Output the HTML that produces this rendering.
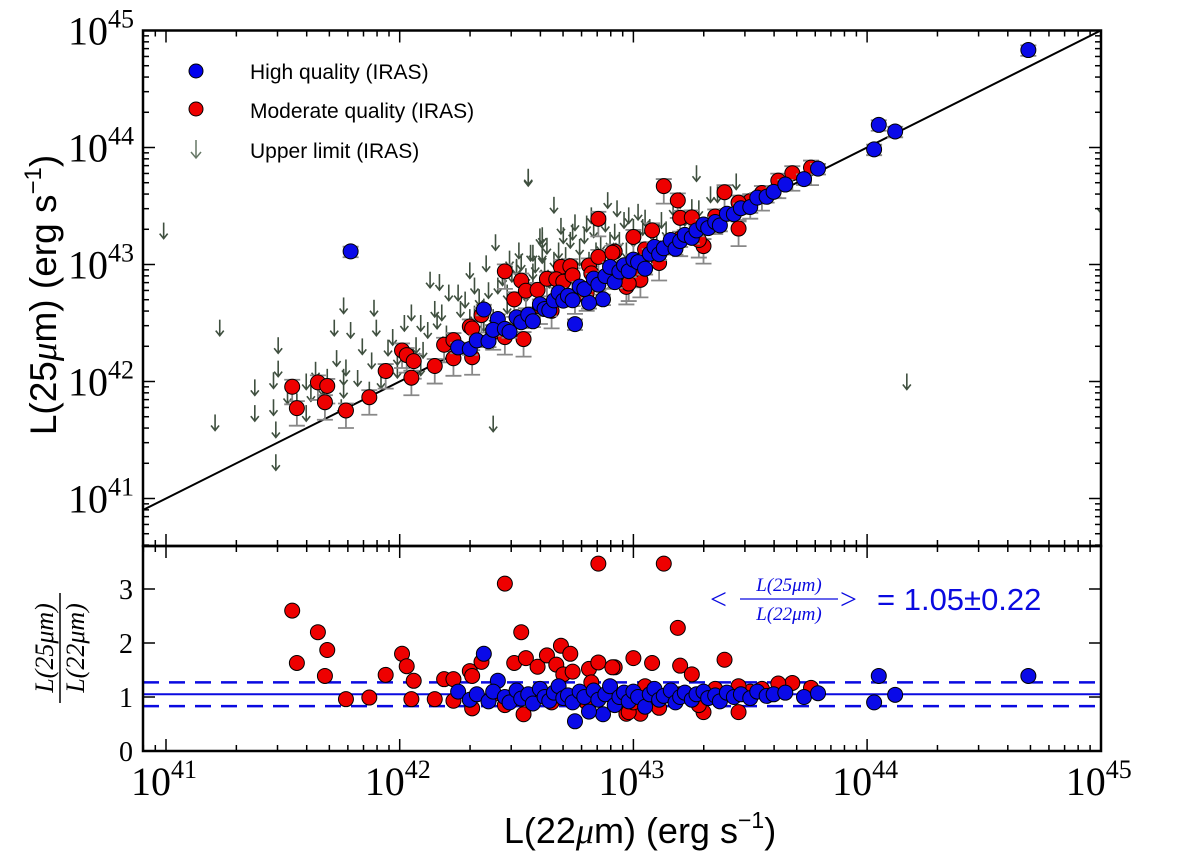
<!DOCTYPE html>
<html><head><meta charset="utf-8"><style>
html,body{margin:0;padding:0;background:#fff;}
svg{display:block;}
.tk{font-family:"Liberation Serif","DejaVu Serif",serif;font-size:40px;fill:#000;}
.sup{font-size:26px;}
.lab{font-family:"Liberation Sans",sans-serif;font-size:36px;fill:#000;}
.leg{font-family:"Liberation Sans",sans-serif;font-size:21px;fill:#000;}
</style></head><body>
<svg id="chart" width="1200" height="865" xmlns="http://www.w3.org/2000/svg">
<defs>
<clipPath id="cTop"><rect x="143" y="30.5" width="958" height="515.5"/></clipPath>
<clipPath id="cBot"><rect x="143" y="546" width="958" height="205"/></clipPath>
</defs>
<g id="gTop" clip-path="url(#cTop)"></g>
<g id="gBot" clip-path="url(#cBot)"></g>
<g id="axes"></g>
<g id="legend">
  <circle cx="196" cy="71" r="7" fill="#0000ee" stroke="#000" stroke-width="1"/>
  <text x="250" y="79" class="leg">High quality (IRAS)</text>
  <circle cx="196" cy="109" r="7" fill="#ee0000" stroke="#000" stroke-width="1"/>
  <text x="250" y="118" class="leg">Moderate quality (IRAS)</text>
  <g stroke="#667766" stroke-width="1.5" fill="none">
    <line x1="196" y1="140" x2="196" y2="158"/><polyline points="191,152 196,158 201,152"/>
  </g>
  <text x="250" y="158" class="leg">Upper limit (IRAS)</text>
</g>
<text transform="translate(56,295) rotate(-90)" text-anchor="middle" class="lab" style="font-size:37px">L(25<tspan font-family="Liberation Serif" font-style="italic">μ</tspan>m) (erg s<tspan dy="-15" font-size="24">−1</tspan><tspan dy="15">)</tspan></text>
<text x="640" y="843" text-anchor="middle" class="lab">L(22<tspan font-family="Liberation Serif" font-style="italic">μ</tspan>m) (erg s<tspan dy="-15" font-size="23">−1</tspan><tspan dy="15">)</tspan></text>
<g transform="translate(60,648) rotate(-90)" font-family="Liberation Serif" font-style="italic" font-size="26">
  <text x="0" y="-7" text-anchor="middle">L(25μm)</text>
  <line x1="-55" y1="0" x2="55" y2="0" stroke="#000" stroke-width="1.5"/>
  <text x="0" y="24" text-anchor="middle">L(22μm)</text>
</g>
<g fill="#0a0ae0">
  <text x="710" y="609" font-family="Liberation Serif" font-size="30">&lt;</text>
  <text x="789" y="591" text-anchor="middle" font-family="Liberation Serif" font-style="italic" font-size="19">L(25μm)</text>
  <line x1="740" y1="599" x2="838" y2="599" stroke="#0a0ae0" stroke-width="1.2"/>
  <text x="789" y="620" text-anchor="middle" font-family="Liberation Serif" font-style="italic" font-size="19">L(22μm)</text>
  <text x="840" y="609" font-family="Liberation Serif" font-size="30">&gt;</text>
  <text x="877" y="610" font-family="Liberation Sans" font-size="31">= 1.05±0.22</text>
</g>
</svg>
<script>
const redPts = [[41.54,2.6],[41.56,1.63],[41.65,2.2],[41.69,1.87],[41.68,1.39],[41.77,0.96],[41.87,0.99],[41.94,1.41],[42.01,1.8],[42.03,1.57],[42.06,1.3],[42.05,0.96],[42.15,0.96],[42.19,1.33],[42.23,1.33],[42.23,0.93],[42.30,1.48],[42.31,1.39],[42.31,0.79],[42.35,1.65],[42.45,3.1],[42.52,2.2],[42.49,1.63],[42.54,1.72],[42.59,1.56],[42.63,1.77],[42.53,0.68],[42.69,1.95],[42.73,1.8],[42.67,1.6],[42.70,1.42],[42.74,1.47],[42.81,1.52],[42.85,1.64],[42.92,1.55],[42.82,1.27],[42.80,0.9],[42.85,3.47],[42.97,0.69],[43.13,3.47],[43.19,2.28],[43.0,1.72],[43.08,1.63],[43.2,1.58],[43.39,1.69],[43.25,1.42],[43.68,1.26],[43.30,0.72],[43.45,0.72],[43.03,0.69],[42.98,0.72],[43.11,0.8],[43.76,1.17],[42.91,1.55],[42.4,1.05],[42.6,1.1],[42.75,0.95],[42.9,1.1],[43.05,1.2],[43.2,1.05],[43.35,1.15],[43.5,1.1],[42.45,0.85],[42.65,0.9],[43.0,0.9],[43.28,0.85],[43.45,1.2],[43.55,1.15],[43.62,1.25]];
const bluePts = [[42.25,1.1],[42.36,1.8],[42.42,1.3],[42.75,0.55],[42.87,0.68],[42.81,0.73],[42.3,0.95],[42.33,1.05],[42.38,0.92],[42.4,1.1],[42.45,1.0],[42.47,0.9],[42.5,1.12],[42.52,0.97],[42.55,1.05],[42.57,0.88],[42.6,1.15],[42.62,1.0],[42.64,0.93],[42.66,1.08],[42.68,1.2],[42.7,0.98],[42.72,1.03],[42.74,0.9],[42.77,1.1],[42.79,1.0],[42.83,1.12],[42.85,0.95],[42.88,1.05],[42.9,1.2],[42.92,0.85],[42.94,1.0],[42.96,1.08],[42.98,0.92],[43.0,1.1],[43.02,1.0],[43.05,0.82],[43.07,1.05],[43.09,1.15],[43.11,0.95],[43.13,1.02],[43.16,1.12],[43.18,0.9],[43.2,1.0],[43.22,1.08],[43.25,0.95],[43.27,1.05],[43.3,1.1],[43.32,0.98],[43.35,1.03],[43.37,0.92],[43.4,1.08],[43.43,1.0],[43.46,1.05],[43.5,0.98],[43.53,1.1],[43.57,1.02],[43.6,1.05],[43.65,1.08],[43.73,1.0],[43.79,1.07],[44.03,0.9],[44.05,1.39],[44.12,1.04],[44.69,1.39],[41.79,21]];
const upperPts = [[40.99,43.29],[41.23,42.46],[41.48,42.31],[41.38,41.95],[41.46,42.01],[41.21,41.65],[41.47,41.59],[45.0,43.51],[44.17,42.0],[42.55,43.74],[41.76,42.65],[41.89,42.63],[41.72,42.46],[41.79,42.44],[41.9,42.46],[42.05,42.59],[42.02,42.5],[42.09,42.5],[42.13,42.87],[42.17,42.85],[42.21,42.76],[42.25,42.76],[42.18,42.59],[42.3,42.95],[42.41,43.19],[42.37,43.01],[42.5,42.98],[42.56,43.1],[42.61,43.1],[42.6,43.24],[42.2,42.41],[42.22,42.34],[42.07,42.31],[42.1,42.27],[41.95,42.29],[41.99,42.21],[41.88,42.18],[41.77,42.12],[41.76,42.04],[41.82,42.03],[41.69,42.04],[41.6,42.0],[41.67,41.95],[41.76,41.93],[41.87,41.93],[41.92,42.01],[41.48,42.11],[41.38,41.73],[41.46,41.78],[41.56,41.83],[41.69,41.84],[41.99,42.1],[42.09,42.12],[42.3,42.55],[42.36,42.64],[42.4,42.55],[42.44,42.89],[42.4,41.64],[41.47,41.31],[41.75,41.78],[41.6,41.73],[42.55,43.75],[42.66,43.51],[42.89,43.55],[43.27,43.78],[43.44,43.71],[43.33,43.6],[43.36,43.6],[42.82,43.42],[42.75,43.36],[42.70,43.25],[42.61,43.25],[42.61,43.21],[42.73,43.21],[42.77,43.15],[42.9,43.21],[42.96,43.38],[43.0,43.32],[43.04,43.32],[43.07,43.32],[43.1,43.23],[43.12,43.38],[43.17,43.49],[43.25,43.49],[43.28,43.48],[42.51,43.12],[42.57,43.1],[42.61,43.08],[42.66,43.04],[42.5,42.97],[42.57,42.94],[42.67,42.94],[42.73,42.98],[42.77,43.06],[42.81,43.04],[42.84,43.12],[42.44,42.89],[42.57,42.87],[42.64,42.87],[42.94,43.21],[42.97,43.12],
[42.28,42.7],[42.32,42.82],[42.34,42.72],[42.38,42.78],[42.42,42.82],[42.46,42.76],[42.48,42.92],[42.52,43.02],[42.54,42.9],[42.58,43.0],[42.62,42.98],[42.68,43.12],[42.71,43.08],[42.74,43.28],[42.79,43.25],[42.83,43.3],[42.86,43.18],[42.88,43.35],[42.92,43.28],[42.98,43.42],[43.02,43.45],[43.05,43.4],[43.08,43.28],[43.14,43.3],[43.2,43.55],[43.22,43.4],[42.47,43.05],[42.52,42.85],[42.63,43.16],[42.69,43.33],[42.8,43.35],[42.93,43.48],[42.15,42.62],[42.26,42.62],[42.32,42.58],[42.12,42.44],[42.16,42.52],[41.97,42.38],[41.84,42.3],[42.04,42.2],[41.62,41.9],[41.52,41.88],[41.64,42.1],[41.73,42.2],[42.46,42.65],[42.54,42.75],[42.6,42.82],[42.69,42.88],[42.36,42.5],[43.0,43.22]];
const xTickLabels = ["41","42","43","44","45"];
const yTopTickLabels = ["41","42","43","44","45"];
const yBotTickLabels = ["0","1","2","3"];
const meanRatio = [1.05];
const ratioSpread = [0.22];

const NS="http://www.w3.org/2000/svg";
const X = lx => 166 + (lx-41)*233.7;
const YT = ly => 30.5 + (45-ly)*117;
const YB = r => 751 - r*54;
function mk(tag, attrs, parent){const e=document.createElementNS(NS,tag);for(const k in attrs)e.setAttribute(k,attrs[k]);parent.appendChild(e);return e;}
const gT=document.getElementById('gTop'), gB=document.getElementById('gBot'), ax=document.getElementById('axes');

let ln=mk('line',{x1:X(40.8),y1:YT(40.8),x2:X(45.1),y2:YT(45.1),stroke:'#000','stroke-width':2},gT);



upperPts.forEach(p=>{
  const g=mk('g',{stroke:'#3f4f3f','stroke-width':1.6,fill:'none'},gT);
  
  
  const x=X(p[0]),y=YT(p[1]);
  mk('line',{x1:x,y1:y-8,x2:x,y2:y+8},g);
  mk('polyline',{points:`${x-4},${y+3} ${x},${y+8} ${x+4},${y+3}`},g);
});

function drawPts(pts,color,name,errDn,errUp){
  pts.forEach(p=>{
    const lx=p[0], r=p[1], ly=lx+Math.log10(r);
    const x=X(lx), y=YT(ly);
    const eg=mk('g',{stroke:'#888','stroke-width':1.8},gT);
    
    
    const y1=YT(ly-errDn), y2=YT(ly+errUp);
    mk('line',{x1:x,y1:y1,x2:x,y2:y2},eg);
    mk('line',{x1:x-8,y1:y1,x2:x+8,y2:y1},eg);
    mk('line',{x1:x-8,y1:y2,x2:x+8,y2:y2},eg);
  });
  pts.forEach(p=>{
    const lx=p[0], r=p[1], ly=lx+Math.log10(r);
    const c=mk('circle',{cx:X(lx),cy:YT(ly),r:7.5,fill:color,stroke:'#000','stroke-width':1},gT);
    
    
    const c2=mk('circle',{cx:X(lx),cy:YB(r),r:7.5,fill:color,stroke:'#000','stroke-width':1},gB);
    
    
  });
}
let ml=mk('line',{x1:143,x2:1101,y1:YB(meanRatio[0]),y2:YB(meanRatio[0]),stroke:'#0a0ae0','stroke-width':2},gB);


[meanRatio[0]+ratioSpread[0], meanRatio[0]-ratioSpread[0]].forEach(v=>{
  const d=mk('line',{x1:143,x2:1101,y1:YB(v),y2:YB(v),stroke:'#0a0ae0','stroke-width':2.5,'stroke-dasharray':'16,10'},gB);
  
  
});
drawPts(redPts,'#ee0000','moderate-quality',0.15,0.06);
drawPts(bluePts,'#0a0ae8','high-quality',0.05,0.04);

[[30.5,546],[546,751]].forEach((b,i)=>{
  const f=mk('rect',{x:143,y:b[0],width:958,height:b[1]-b[0],fill:'none',stroke:'#000','stroke-width':2.5},ax);
  
  
});
const tg=mk('g',{stroke:'#000','stroke-width':1.5},ax);


for(let d=40;d<=45;d++){
  for(let m=1;m<=9;m++){
    const lx=d+Math.log10(m); if(lx<40.9||lx>45.001) continue;
    const x=X(lx), L=m==1?12:6;
    [30.5,546].forEach(y=>mk('line',{x1:x,y1:y,x2:x,y2:y+L},tg));
    [546,751].forEach(y=>mk('line',{x1:x,y1:y,x2:x,y2:y-L},tg));
  }
}
for(let d=40;d<=45;d++){
  for(let m=1;m<=9;m++){
    const ly=d+Math.log10(m); if(ly<40.59||ly>45.001) continue;
    const y=YT(ly), L=m==1?12:6;
    mk('line',{x1:143,y1:y,x2:143+L,y2:y},tg);
    mk('line',{x1:1101,y1:y,x2:1101-L,y2:y},tg);
  }
}
yBotTickLabels.forEach(v=>{const y=YB(+v);mk('line',{x1:143,y1:y,x2:155,y2:y},tg);mk('line',{x1:1101,y1:y,x2:1089,y2:y},tg);});
xTickLabels.forEach(s=>{
  const t=mk('text',{x:X(+s)-2,y:795,'text-anchor':'middle',class:'tk'},ax);
  
  
  t.innerHTML='10<tspan class="sup" dy="-17">'+s+'</tspan>';
});
yTopTickLabels.forEach(s=>{
  const t=mk('text',{x:134,y:YT(+s)+14,'text-anchor':'end',class:'tk'},ax);
  
  
  t.innerHTML='10<tspan class="sup" dy="-17">'+s+'</tspan>';
});
yBotTickLabels.forEach(s=>{
  const t=mk('text',{x:133,y:YB(+s)+10,'text-anchor':'end',class:'tk',style:'font-size:28px'},ax);
  
  
  t.textContent=s;
});
</script>
</body></html>
